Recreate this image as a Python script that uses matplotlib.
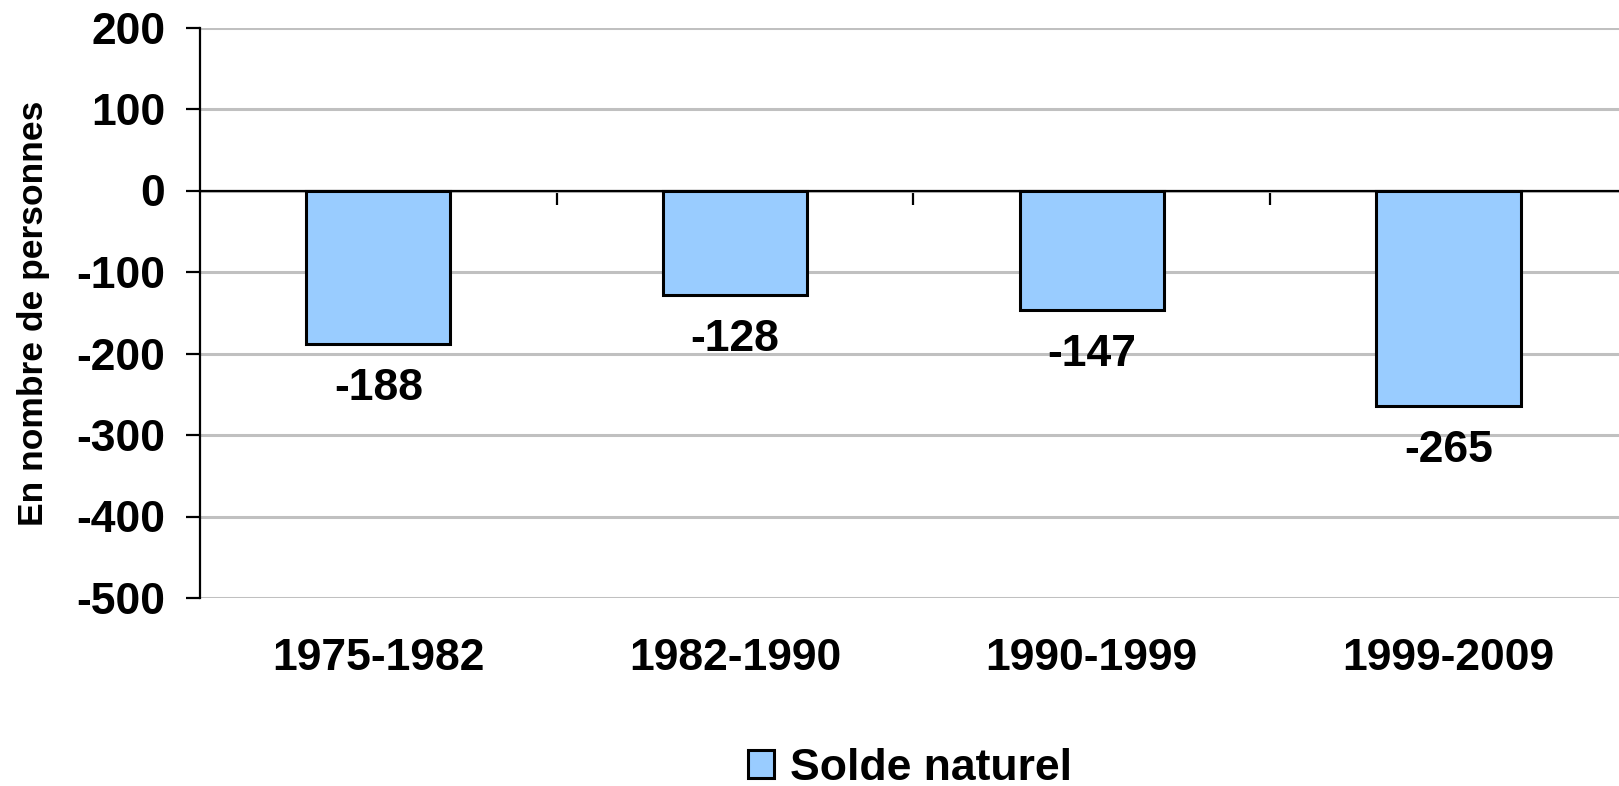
import matplotlib.pyplot as plt
import numpy as np

periods = ["1975-1982", "1982-1990", "1990-1999", "1999-2009"]
solde_naturel = [-188, -128, -147, -265]
yticks = [200, 100, 0, -100, -200, -300, -400, -500]

plt.rcParams['font.family'] = ['Liberation Sans', 'DejaVu Sans']
plt.rcParams['font.weight'] = 'bold'

fig = plt.figure(figsize=(16.19, 7.86), dpi=100)
ax = fig.add_axes([200/1619, 1-598/786, 1-200/1619, (598-27.5)/786])

x = np.arange(len(periods))
bars = ax.bar(x, solde_naturel, width=0.404, color="#99ccff", edgecolor="black",
              linewidth=2.2, zorder=3, label="Solde naturel")

ax.set_xlim(-0.5, 3.478)
ax.set_ylim(-500, 200)
ax.set_yticks(yticks)
ax.set_yticklabels([str(v) for v in yticks], fontsize=32, fontweight="bold")
ax.yaxis.grid(True, color="#c0c0c0", linewidth=2.2, zorder=0)
ax.tick_params(axis="y", direction="out", length=10, width=1.6, pad=15)

for s in ["top", "right"]:
    ax.spines[s].set_visible(False)
ax.spines["left"].set_linewidth(1.6)
ax.spines["bottom"].set_position(("data", 0))
ax.spines["bottom"].set_linewidth(1.6)
ax.spines["bottom"].set_zorder(4)
ax.set_xticks([0.5, 1.5, 2.5])
ax.set_xticklabels([])
ax.tick_params(axis="x", direction="out", length=10, width=1.6)

sec = ax.secondary_xaxis("bottom")
sec.set_xticks(x)
sec.set_xticklabels(periods, fontsize=32, fontweight="bold")
sec.tick_params(length=0, pad=29)
sec.spines["bottom"].set_visible(False)

for xi, v in zip(x, solde_naturel):
    ax.annotate(str(v), (xi, v), xytext=(0, -32), textcoords="offset points",
                ha="center", va="center", fontsize=32, fontweight="bold", zorder=5)

fig.text(34/1619, 1-313/786, "En nombre de personnes", rotation=90,
         ha="center", va="center", fontsize=25.5, fontweight="bold")

fig.legend(handles=[bars], loc="center", bbox_to_anchor=(0.562, 1-768/786),
           frameon=False, prop={"size": 32, "weight": "bold"},
           handlelength=0.58, handleheight=0.6, handletextpad=0.35)

fig.savefig("out.png", dpi=100)
